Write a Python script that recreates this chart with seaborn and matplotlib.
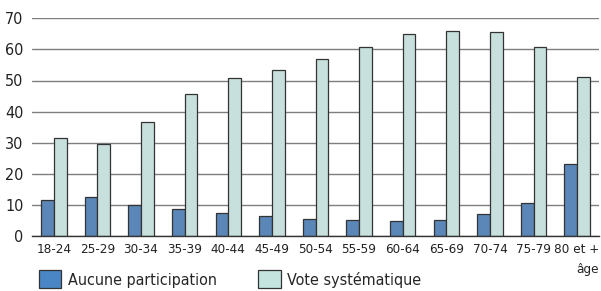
import pandas as pd
import matplotlib
matplotlib.use("Agg")
import matplotlib.pyplot as plt
import matplotlib.transforms as mtransforms
import seaborn as sns

age_groups = ["18-24", "25-29", "30-34", "35-39", "40-44", "45-49", "50-54",
              "55-59", "60-64", "65-69", "70-74", "75-79", "80 et +\nâge"]
aucune = [11.7, 12.7, 10.0, 8.6, 7.5, 6.3, 5.6, 5.0, 4.8, 5.1, 7.0, 10.5, 23.3]
vote = [31.6, 29.5, 36.7, 45.8, 50.8, 53.5, 56.8, 60.9, 64.8, 65.8, 65.5, 60.9, 51.2]
series = ["Aucune participation", "Vote systématique"]
colors = ["#4a86c6", "#c4e4e0"]

df = pd.DataFrame({
    "age": age_groups * 2,
    "serie": [series[0]] * len(age_groups) + [series[1]] * len(age_groups),
    "valeur": aucune + vote,
})

sns.set_style("white")
plt.rcParams["font.family"] = ["DejaVu Sans"]
plt.rcParams["font.stretch"] = "condensed"

fig = plt.figure(figsize=(6.01, 2.91), dpi=100)
ax = fig.add_axes([32 / 601, 1 - 236 / 291, 567 / 601, (236 - 18.3) / 291])

sns.barplot(data=df, x="age", y="valeur", hue="serie", palette=colors,
            width=0.585, edgecolor="#333333", linewidth=0.9, ax=ax, legend=False)

ax.set_ylim(0, 70)
ax.set_xlim(-0.5, 12.5)
ax.set_yticks(range(0, 71, 10))
ax.yaxis.grid(True, color="#7f7f7f", linewidth=1.0)
ax.set_axisbelow(True)
for s in ["top", "right", "left"]:
    ax.spines[s].set_visible(False)
ax.spines["bottom"].set_color("#333333")
ax.spines["bottom"].set_linewidth(1.0)
ax.set_xlabel("")
ax.set_ylabel("")
ax.tick_params(axis="x", length=0, labelsize=9.6, colors="#222222", pad=5)
ax.tick_params(axis="y", length=0, labelsize=11.5, colors="#222222", pad=6)
for lbl in ax.get_xticklabels():
    lbl.set_linespacing(1.7)
last = ax.get_xticklabels()[-1]
last.set_horizontalalignment("right")
last.set_multialignment("right")
last.set_transform(last.get_transform() +
                   mtransforms.ScaledTranslation(22 / 100, 0, fig.dpi_scale_trans))

handles = [plt.Rectangle((0, 0), 1, 1, facecolor=c, edgecolor="#333333", linewidth=0.9)
           for c in colors]
fig.legend(handles, series, loc="upper left", bbox_to_anchor=(39 / 601, 1 - 270 / 291),
           ncol=2, frameon=False, fontsize=11.5, handlelength=1.4, handleheight=1.4,
           handletextpad=0.4, columnspacing=2.6, borderaxespad=0, borderpad=0)

fig.savefig("out.png", dpi=100)
